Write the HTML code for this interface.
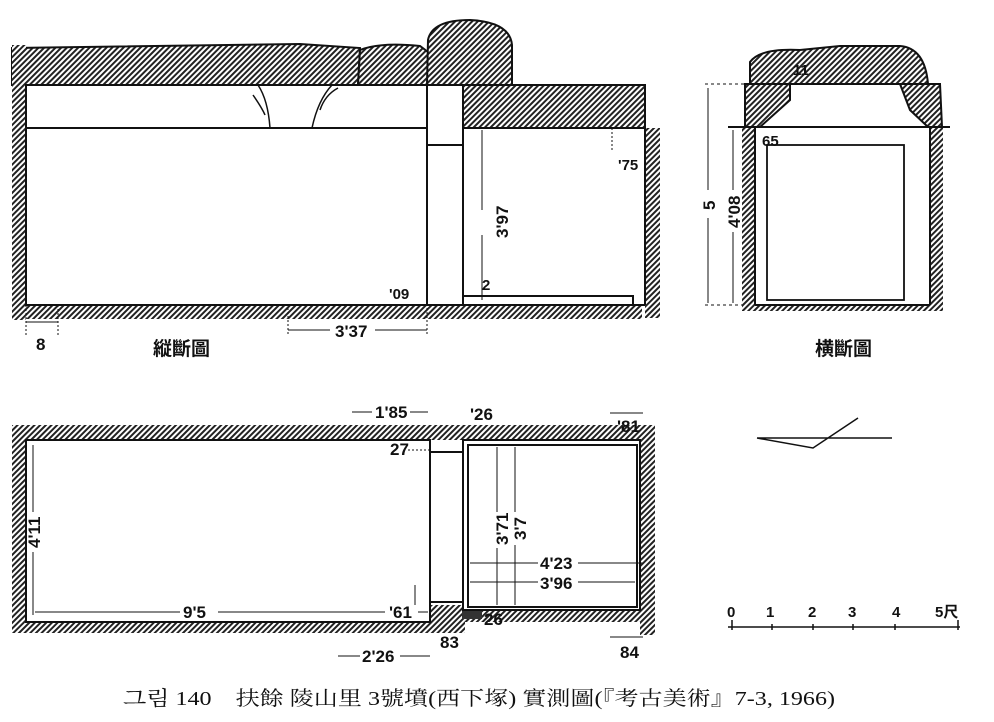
<!DOCTYPE html>
<html><head><meta charset="utf-8"><style>
html,body{margin:0;padding:0;background:#fff;}
svg{display:block}
text{font-family:"Liberation Sans","Noto Sans CJK KR",sans-serif;fill:#111;font-weight:bold;}
</style></head><body>
<svg width="994" height="722" viewBox="0 0 994 722" xmlns="http://www.w3.org/2000/svg">
<defs>
<pattern id="h" width="4" height="4" patternUnits="userSpaceOnUse" patternTransform="rotate(45)">
<rect width="4" height="4" fill="#fff"/><rect width="2" height="4" fill="#222"/>
</pattern>
</defs>
<g stroke="#111" stroke-width="2" fill="none">
<path d="M12 48 L300 44 L360 48 L358 85 L12 85 Z" fill="url(#h)"/>
<path d="M358 85 L360 50 Q380 42 420 46 L428 52 L428 85 Z" fill="url(#h)"/>
<path d="M427 85 L428 40 Q432 20 470 20 Q510 22 512 45 L512 85 Z" fill="url(#h)"/>
<rect x="12" y="45" width="14" height="275" fill="url(#h)" stroke="none"/>
<rect x="12" y="305" width="630" height="14" fill="url(#h)" stroke="none"/>
<rect x="463" y="85" width="182" height="43" fill="url(#h)"/>
<rect x="645" y="128" width="15" height="190" fill="url(#h)" stroke="none"/>
<rect x="26" y="85" width="401" height="220" fill="#fff"/>
<line x1="26" y1="128" x2="427" y2="128"/>
<rect x="427" y="85" width="36" height="220" fill="#fff"/>
<line x1="427" y1="145" x2="463" y2="145"/>
<line x1="463" y1="128" x2="463" y2="305"/>
<line x1="645" y1="128" x2="645" y2="305"/>
<line x1="463" y1="305" x2="645" y2="305"/>
<rect x="463" y="296" width="170" height="9" fill="#fff"/>
<path d="M258 85 Q268 100 270 128 M332 85 Q318 100 312 128 M253 95 Q262 108 265 115 M338 88 Q325 95 320 110" stroke-width="1.5"/>
<g stroke-width="1">
<line x1="482" y1="130" x2="482" y2="210"/><line x1="482" y1="235" x2="482" y2="300"/>
<line x1="288" y1="330" x2="330" y2="330"/><line x1="375" y1="330" x2="427" y2="330"/>
<line x1="288" y1="308" x2="288" y2="335" stroke-dasharray="2 2"/><line x1="427" y1="308" x2="427" y2="335" stroke-dasharray="2 2"/>
<line x1="26" y1="322" x2="58" y2="322"/><line x1="26" y1="305" x2="26" y2="335" stroke-dasharray="2 2"/><line x1="58" y1="305" x2="58" y2="335" stroke-dasharray="2 2"/>
<line x1="612" y1="128" x2="612" y2="150" stroke-dasharray="2 2"/>
</g>
<path d="M750 84 L750 62 Q760 48 800 50 L840 46 L900 46 Q925 48 928 84 Z" fill="url(#h)"/>
<path d="M745 84 L790 84 L790 100 L760 127 L745 127 Z" fill="url(#h)"/>
<path d="M900 84 L940 84 L942 127 L928 127 L910 110 Z" fill="url(#h)"/>
<rect x="742" y="127" width="13" height="178" fill="url(#h)" stroke="none"/>
<rect x="930" y="127" width="13" height="178" fill="url(#h)" stroke="none"/>
<rect x="742" y="305" width="201" height="6" fill="url(#h)" stroke="none"/>
<line x1="728" y1="127" x2="950" y2="127"/>
<line x1="755" y1="127" x2="755" y2="305"/><line x1="930" y1="127" x2="930" y2="305"/>
<line x1="755" y1="305" x2="930" y2="305"/>
<rect x="767" y="145" width="137" height="155" stroke-width="1.8"/>
<g stroke-width="1">
<line x1="708" y1="88" x2="708" y2="190"/><line x1="708" y1="218" x2="708" y2="303"/>
<line x1="733" y1="130" x2="733" y2="190"/><line x1="733" y1="232" x2="733" y2="303"/>
<line x1="705" y1="84" x2="750" y2="84" stroke-dasharray="3 3"/>
<line x1="705" y1="305" x2="742" y2="305" stroke-dasharray="3 3"/>
</g>
<rect x="12" y="425" width="418" height="15" fill="url(#h)" stroke="none"/>
<rect x="12" y="425" width="14" height="208" fill="url(#h)" stroke="none"/>
<rect x="12" y="622" width="418" height="11" fill="url(#h)" stroke="none"/>
<rect x="430" y="605" width="35" height="28" fill="url(#h)" stroke="none"/>
<rect x="430" y="425" width="220" height="15" fill="url(#h)" stroke="none"/>
<rect x="640" y="425" width="15" height="210" fill="url(#h)" stroke="none"/>
<rect x="463" y="610" width="185" height="12" fill="url(#h)" stroke="none"/>
<rect x="462" y="603" width="20" height="16" fill="#333" stroke="none"/>
<rect x="26" y="440" width="404" height="182" fill="#fff"/>
<rect x="430" y="452" width="33" height="150" fill="#fff"/>
<rect x="463" y="440" width="177" height="170" fill="#fff"/>
<rect x="468" y="445" width="169" height="162"/>
<g stroke-width="1">
<line x1="33" y1="445" x2="33" y2="512"/><line x1="33" y1="552" x2="33" y2="615"/>
<line x1="35" y1="612" x2="180" y2="612"/><line x1="218" y1="612" x2="385" y2="612"/><line x1="418" y1="612" x2="428" y2="612"/>
<line x1="415" y1="585" x2="415" y2="605"/>
<line x1="352" y1="412" x2="372" y2="412"/><line x1="410" y1="412" x2="428" y2="412"/>
<line x1="338" y1="656" x2="360" y2="656"/><line x1="400" y1="656" x2="430" y2="656"/>
<line x1="497" y1="447" x2="497" y2="512"/><line x1="497" y1="548" x2="497" y2="605"/>
<line x1="515" y1="447" x2="515" y2="512"/><line x1="515" y1="545" x2="515" y2="605"/>
<line x1="470" y1="563" x2="538" y2="563"/><line x1="578" y1="563" x2="643" y2="563"/>
<line x1="470" y1="582" x2="538" y2="582"/><line x1="578" y1="582" x2="635" y2="582"/>
<line x1="610" y1="413" x2="643" y2="413"/><line x1="610" y1="637" x2="643" y2="637"/>
<line x1="408" y1="450" x2="430" y2="450" stroke-dasharray="2 2"/>
</g>
<path d="M757 438 L892 438 M757 438 L813 448 L858 418" stroke-width="1.5"/>
<path d="M728 627 L960 627 M732 620 L732 630 M958 620 L958 630 M772 624 L772 630 M813 624 L813 630 M853 624 L853 630 M895 624 L895 630" stroke-width="1.5"/>
</g>
<g font-size="17">
<text x="36" y="350">8</text>
<text x="153" y="355" font-size="19">縦斷圖</text>
<text x="335" y="337">3'37</text>
<text x="389" y="299" font-size="15">'09</text>
<text x="482" y="290" font-size="15">2</text>
<text x="618" y="170" font-size="15">'75</text>
<text transform="translate(508 238) rotate(-90)">3'97</text>
<text x="793" y="75" font-size="15">11</text>
<text x="762" y="146" font-size="15">65</text>
<text transform="translate(715 210) rotate(-90)">5</text>
<text transform="translate(740 228) rotate(-90)">4'08</text>
<text x="815" y="355" font-size="19">横斷圖</text>
<text transform="translate(40 548) rotate(-90)">4'11</text>
<text x="183" y="618">9'5</text>
<text x="389" y="618">'61</text>
<text x="375" y="418">1'85</text>
<text x="390" y="455">27</text>
<text x="362" y="662">2'26</text>
<text x="440" y="648">83</text>
<text x="470" y="420">'26</text>
<text x="617" y="432">'81</text>
<text transform="translate(508 545) rotate(-90)">3'71</text>
<text transform="translate(526 540) rotate(-90)">3'7</text>
<text x="540" y="569">4'23</text>
<text x="540" y="589">3'96</text>
<text x="484" y="625">26</text>
<text x="620" y="658">84</text>
<text x="727" y="617" font-size="15">0</text>
<text x="766" y="617" font-size="15">1</text>
<text x="808" y="617" font-size="15">2</text>
<text x="848" y="617" font-size="15">3</text>
<text x="892" y="617" font-size="15">4</text>
<text x="935" y="617" font-size="15">5尺</text>
</g>
<text x="123" y="705" font-size="20" textLength="712" lengthAdjust="spacingAndGlyphs" style="font-family:'Liberation Serif','Noto Serif CJK SC',serif;font-weight:normal">그림 140　扶餘 陵山里 3號墳(西下塚) 實測圖(『考古美術』7-3, 1966)</text>
</svg>
</body></html>
